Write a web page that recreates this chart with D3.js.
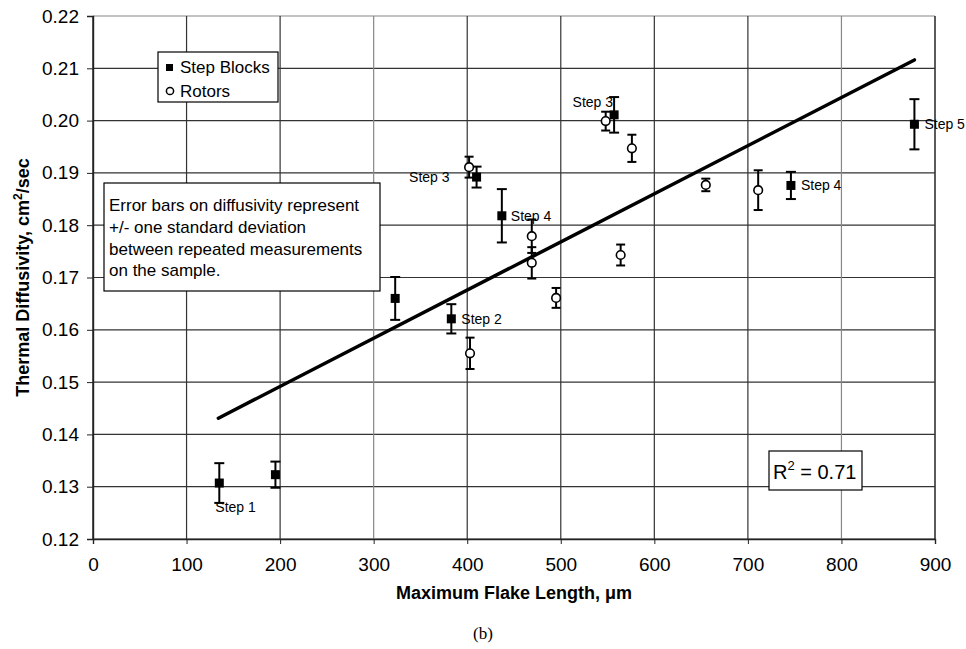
<!DOCTYPE html>
<html>
<head>
<meta charset="utf-8">
<script src="https://cdn.jsdelivr.net/npm/d3@7"></script>
<style>
  body { margin: 0; background: #fff; }
  text { font-family: "Liberation Sans", Arial, sans-serif; fill: #000; }
</style>
</head>
<body>
<div id="chart"></div>
<script>
// Data
var blockX   = [135, 195, 323, 383, 410, 437, 557, 746, 878];
var blockY   = [0.1307, 0.1323, 0.1660, 0.1621, 0.1892, 0.1818, 0.2011, 0.1876, 0.1993];
var blockErr = [0.0038, 0.0025, 0.0041, 0.0028, 0.0020, 0.0051, 0.0034, 0.0026, 0.0048];
var blockLabels = ["Step 1", "", "", "Step 2", "Step 3", "Step 4", "Step 3", "Step 4", "Step 5"];

var rotorX   = [402, 403, 469, 469, 495, 548, 564, 576, 655, 711];
var rotorY   = [0.1911, 0.1555, 0.1779, 0.1728, 0.1661, 0.1999, 0.1743, 0.1947, 0.1877, 0.1867];
var rotorErr = [0.0020, 0.0030, 0.0032, 0.0030, 0.0019, 0.0018, 0.0020, 0.0026, 0.0012, 0.0038];

var trendX = [134, 878];
var trendY = [0.1431, 0.2116];

var xTicks = [0, 100, 200, 300, 400, 500, 600, 700, 800, 900];
var yTicks = [0.12, 0.13, 0.14, 0.15, 0.16, 0.17, 0.18, 0.19, 0.20, 0.21, 0.22];

var noteLines = [
  "Error bars on diffusivity represent",
  "+/- one standard deviation",
  "between repeated measurements",
  "on the sample."
];

var width = 966;
var height = 649;

var svg = d3.select("#chart")
  .append("svg")
  .attr("width", width)
  .attr("height", height);

var xScale = d3.scaleLinear().domain([0, 900]).range([93, 935]);
var yScale = d3.scaleLinear().domain([0.12, 0.22]).range([539, 16]);

// grid
svg.append("g").selectAll("line")
  .data(yTicks).enter().append("line")
  .attr("x1", xScale(0)).attr("x2", xScale(900))
  .attr("y1", function(d) { return yScale(d); })
  .attr("y2", function(d) { return yScale(d); })
  .attr("stroke", function(d, i) { return i === yTicks.length - 1 ? "#888" : "#333"; })
  .attr("stroke-width", 1.2);

svg.append("g").selectAll("line")
  .data(xTicks).enter().append("line")
  .attr("y1", yScale(0.12)).attr("y2", yScale(0.22))
  .attr("x1", function(d) { return xScale(d); })
  .attr("x2", function(d) { return xScale(d); })
  .attr("stroke", function(d) { return (d === 300 || d === 800) ? "#888" : "#333"; })
  .attr("stroke-width", function(d) { return (d === 0 || d === 900) ? 1.6 : 1.2; });

// axes
var yAxis = d3.axisLeft(yScale).tickValues(yTicks)
  .tickFormat(d3.format(".2f")).tickSize(6).tickPadding(8);
var xAxis = d3.axisBottom(xScale).tickValues(xTicks)
  .tickFormat(d3.format("d")).tickSize(5).tickPadding(14);

var gy = svg.append("g")
  .attr("transform", "translate(" + xScale(0) + ",0)")
  .call(yAxis);
var gx = svg.append("g")
  .attr("transform", "translate(0," + yScale(0.12) + ")")
  .call(xAxis);

[gx, gy].forEach(function(g) {
  g.select(".domain").attr("stroke", "#222").attr("stroke-width", 1.4);
  g.selectAll(".tick line").attr("stroke", "#222");
  g.selectAll(".tick text")
    .style("font-family", "'Liberation Sans', Arial, sans-serif")
    .style("font-size", "19px")
    .attr("fill", "#000");
});

// axis titles
svg.append("text")
  .attr("x", (xScale(0) + xScale(900)) / 2)
  .attr("y", 599)
  .attr("text-anchor", "middle")
  .style("font-size", "18px")
  .style("font-weight", "bold")
  .text("Maximum Flake Length, \u03bcm");

var yTitle = svg.append("text")
  .attr("transform", "translate(29," + (yScale(0.17)) + ") rotate(-90)")
  .attr("text-anchor", "middle")
  .style("font-size", "18px")
  .style("font-weight", "bold");
yTitle.append("tspan").text("Thermal Diffusivity, cm");
yTitle.append("tspan").attr("dy", -7).style("font-size", "12px").text("2");
yTitle.append("tspan").attr("dy", 7).text("/sec");

svg.append("text")
  .attr("x", 483)
  .attr("y", 639)
  .attr("text-anchor", "middle")
  .style("font-family", "'Liberation Serif', 'Times New Roman', serif")
  .style("font-size", "17px")
  .text("(b)");

// trend line
svg.append("line")
  .attr("x1", xScale(trendX[0])).attr("y1", yScale(trendY[0]))
  .attr("x2", xScale(trendX[1])).attr("y2", yScale(trendY[1]))
  .attr("stroke", "#000")
  .attr("stroke-width", 3.5)
  .attr("stroke-linecap", "round");

// error bars
function drawErrors(xs, ys, errs, cap) {
  var g = svg.append("g").attr("stroke", "#000").attr("stroke-width", 2);
  xs.forEach(function(x, i) {
    var cx = xScale(x);
    var top = yScale(ys[i] + errs[i]);
    var bot = yScale(ys[i] - errs[i]);
    g.append("line").attr("x1", cx).attr("x2", cx).attr("y1", top).attr("y2", bot);
    g.append("line").attr("x1", cx - cap).attr("x2", cx + cap).attr("y1", top).attr("y2", top);
    g.append("line").attr("x1", cx - cap).attr("x2", cx + cap).attr("y1", bot).attr("y2", bot);
  });
}
drawErrors(blockX, blockY, blockErr, 5);
drawErrors(rotorX, rotorY, rotorErr, 4.5);

// rotors: open circles
svg.append("g").selectAll("circle")
  .data(rotorX).enter().append("circle")
  .attr("cx", function(d) { return xScale(d); })
  .attr("cy", function(d, i) { return yScale(rotorY[i]); })
  .attr("r", 4.3)
  .attr("fill", "#fff")
  .attr("stroke", "#000")
  .attr("stroke-width", 1.6);

// step blocks: filled squares
svg.append("g").selectAll("rect")
  .data(blockX).enter().append("rect")
  .attr("x", function(d) { return xScale(d) - 4.5; })
  .attr("y", function(d, i) { return yScale(blockY[i]) - 4.5; })
  .attr("width", 9)
  .attr("height", 9)
  .attr("fill", "#000");

// step labels (offset in px from the square, anchor)
var labelOffsets = [
  [-4, 24, "start"], [0, 0, "start"], [0, 0, "start"],
  [10, 0, "start"], [-27, 0, "end"], [9, 0, "start"],
  [-1, -13, "end"], [10, 0, "start"], [10, 0, "start"]
];
blockLabels.forEach(function(lab, i) {
  if (!lab) return;
  var off = labelOffsets[i];
  svg.append("text")
    .attr("x", xScale(blockX[i]) + off[0])
    .attr("y", yScale(blockY[i]) + off[1])
    .attr("dy", "0.35em")
    .attr("text-anchor", off[2])
    .style("font-size", "14px")
    .text(lab);
});

// legend
var legend = svg.append("g").attr("transform", "translate(158,52)");
legend.append("rect")
  .attr("width", 120).attr("height", 50)
  .attr("fill", "#fff").attr("stroke", "#000").attr("stroke-width", 1.2);
legend.append("rect")
  .attr("x", 8).attr("y", 12).attr("width", 7).attr("height", 7).attr("fill", "#000");
legend.append("text").attr("x", 22).attr("y", 15.5).attr("dy", "0.35em")
  .style("font-size", "17px").text("Step Blocks");
legend.append("circle")
  .attr("cx", 12).attr("cy", 39).attr("r", 3.6)
  .attr("fill", "#fff").attr("stroke", "#000").attr("stroke-width", 1.5);
legend.append("text").attr("x", 22).attr("y", 39).attr("dy", "0.35em")
  .style("font-size", "17px").text("Rotors");

// note box
var note = svg.append("g").attr("transform", "translate(104,183)");
note.append("rect")
  .attr("width", 276).attr("height", 108)
  .attr("fill", "#fff").attr("stroke", "#000").attr("stroke-width", 1.2);
note.selectAll("text")
  .data(noteLines).enter().append("text")
  .attr("x", 5)
  .attr("y", function(d, i) { return 22 + i * 21.8; })
  .attr("dy", "0.35em")
  .style("font-size", "17px")
  .text(function(d) { return d; });

// R squared box
var r2 = svg.append("g").attr("transform", "translate(769,451)");
r2.append("rect")
  .attr("width", 93).attr("height", 39)
  .attr("fill", "#fff").attr("stroke", "#000").attr("stroke-width", 1.2);
var r2t = r2.append("text").attr("x", 4).attr("y", 28).style("font-size", "20px");
r2t.append("tspan").text("R");
r2t.append("tspan").attr("dy", -9).style("font-size", "13px").text("2");
r2t.append("tspan").attr("dy", 9).text(" = 0.71");
</script>
</body>
</html>
